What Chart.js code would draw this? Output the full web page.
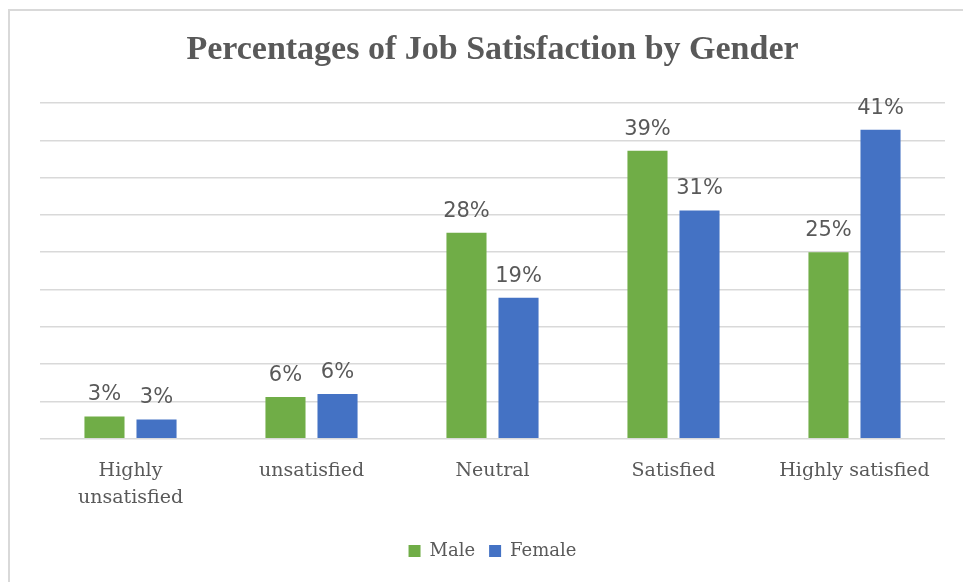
<!DOCTYPE html>
<html>
<head>
<meta charset="utf-8">
<script src="https://cdn.jsdelivr.net/npm/chart.js@4/dist/chart.umd.min.js"></script>
<style>
  html, body { margin: 0; padding: 0; background: #fff; overflow: hidden; }
  #frame {
    position: absolute; left: 8px; top: 9px; width: 1000px; height: 600px;
    border-top: 2px solid #d9d9d9; border-left: 2px solid #d9d9d9;
  }
  #wrap { position: absolute; left: 0; top: 0; width: 963px; height: 582px; }
</style>
</head>
<body>
<div id="frame"></div>
<div id="wrap"><canvas id="jobChart" width="963" height="582"></canvas></div>
<script>
// 満足度カテゴリ
const categories = [['Highly', 'unsatisfied'], 'unsatisfied', 'Neutral', 'Satisfied', 'Highly satisfied'];
// 男女別 (%)
const maleValues = [3.0, 5.6, 27.6, 38.6, 25.0];
const femaleValues = [2.6, 6.0, 18.9, 30.6, 41.4];
const yTicks = [0, 5, 10, 15, 20, 25, 30, 35, 40, 45];

const textColor = '#595959';

// バーの上にラベルを描く
const barLabels = {
  id: 'barLabels',
  afterDatasetsDraw(chart) {
    const ctx = chart.ctx;
    ctx.save();
    ctx.font = '21px "DejaVu Sans"';
    ctx.fillStyle = textColor;
    ctx.textAlign = 'center';
    ctx.textBaseline = 'alphabetic';
    chart.data.datasets.forEach((ds, i) => {
      chart.getDatasetMeta(i).data.forEach((bar, j) => {
        ctx.fillText(Math.round(ds.data[j]) + '%', bar.x, bar.y - 16);
      });
    });
    ctx.restore();
  }
};

const ctx = document.getElementById('jobChart');
const myChart = new Chart(ctx, {
  type: 'bar',
  data: {
    labels: categories,
    datasets: [{
      label: 'Male',
      data: maleValues,
      backgroundColor: '#70AD47',
      categoryPercentage: 0.575,
      barPercentage: 0.77
    }, {
      label: 'Female',
      data: femaleValues,
      backgroundColor: '#4472C4',
      categoryPercentage: 0.575,
      barPercentage: 0.77
    }]
  },
  options: {
    responsive: false,
    animation: false,
    layout: {
      padding: { left: 40, right: 18, top: 30, bottom: 12 }
    },
    scales: {
      x: {
        grid: { display: false },
        border: { display: false },
        afterFit: (axis) => { axis.height += 6; },
        ticks: {
          color: textColor,
          font: { family: '"DejaVu Serif"', size: 19, lineHeight: 1.4 },
          padding: 11,
          maxRotation: 0
        }
      },
      y: {
        display: true,
        min: 0,
        max: 45,
        afterBuildTicks: (axis) => { axis.ticks = yTicks.map(v => ({ value: v })); },
        grid: { color: '#d9d9d9', lineWidth: 1.5, drawTicks: false },
        border: { display: false },
        ticks: { display: false }
      }
    },
    plugins: {
      title: {
        display: true,
        text: 'Percentages of Job Satisfaction by Gender',
        color: textColor,
        font: { family: '"Liberation Serif"', size: 34, weight: 'bold' },
        padding: { top: 0, bottom: 32.2 }
      },
      legend: {
        position: 'bottom',
        labels: {
          color: textColor,
          font: { family: '"DejaVu Serif"', size: 18 },
          boxWidth: 12,
          boxHeight: 12,
          padding: 14
        }
      },
      tooltip: { enabled: false }
    }
  },
  plugins: [barLabels]
});
</script>
</body>
</html>
